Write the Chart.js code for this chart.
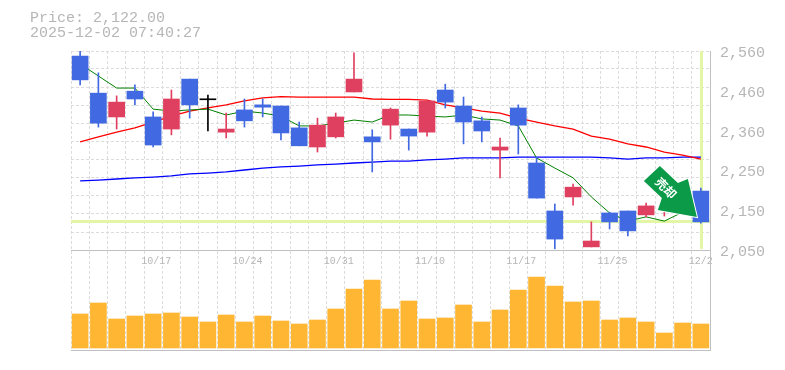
<!DOCTYPE html>
<html>
<head>
<meta charset="utf-8">
<style>
html, body { margin: 0; padding: 0; background: #fff; }
canvas { display: block; }
</style>
<script src="https://cdn.jsdelivr.net/npm/chart.js@4"></script>
</head>
<body>
<canvas id="stock-chart" width="785" height="370"></canvas>
<script>
// Data (the two candles under the arrow are estimates)
const dates = ['10/10','10/14','10/15','10/16','10/17','10/20','10/21','10/22','10/23','10/24',
    '10/27','10/28','10/29','10/30','10/31','11/4','11/5','11/6','11/7','11/10',
    '11/11','11/12','11/13','11/14','11/17','11/18','11/19','11/20','11/21','11/25',
    '11/26','11/27','11/28','12/1','12/2'];
const tickDates = ['10/17','10/24','10/31','11/10','11/17','11/25','12/2'];

const opens = [2547,2452,2391,2457,2391,2360,2488,2435,2352,2409,2422,2419,2363,2314,2340,2455,2340,2370,2360,2352,
    2460,2419,2381,2306,2414,2273,2150,2186,2058,2145,2150,2140,2199,2178,2201];
const highs = [2560,2504,2445,2473,2404,2460,2488,2447,2401,2437,2437,2419,2378,2388,2401,2555,2358,2414,2360,2434,
    2475,2442,2391,2337,2422,2288,2168,2219,2122,2147,2150,2170,2235,2204,2209];
const lows = [2473,2365,2360,2422,2314,2345,2388,2355,2337,2365,2391,2332,2317,2301,2337,2455,2250,2334,2306,2342,
    2414,2322,2327,2235,2296,2183,2053,2165,2058,2104,2086,2135,2137,2142,2119];
const closes = [2486,2375,2429,2437,2319,2437,2422,2435,2360,2381,2416,2350,2317,2370,2391,2488,2327,2411,2342,2432,
    2429,2378,2355,2314,2370,2183,2078,2211,2073,2122,2099,2163,2229,2150,2122];

const maShort = [2527,2496,2465,2465,2411,2406,2409,2411,2396,2406,2401,2393,2368,2368,2375,2383,2378,2396,2396,2393,
    2391,2396,2386,2383,2368,2286,2260,2235,2186,2145,2124,2135,2124,2147,2165];
const maMid = [2327,2340,2352,2363,2378,2393,2406,2414,2422,2432,2440,2443,2442,2442,2442,2442,2437,2436,2436,2434,
    2422,2414,2406,2401,2388,2378,2368,2360,2342,2334,2322,2314,2301,2293,2283];
const maLong = [2227,2229,2232,2235,2237,2240,2245,2247,2250,2255,2260,2263,2265,2268,2270,2273,2275,2278,2278,2281,
    2283,2286,2286,2286,2288,2288,2288,2288,2288,2286,2283,2286,2286,2288,2288];

const volumes = [102,135,87,96,102,105,93,78,99,78,96,81,72,84,117,177,204,117,
    141,87,90,129,78,114,174,213,186,138,141,84,90,78,45,75,72];

const priceTicks = [2560,2458,2356,2254,2152,2050];
const priceTickLabels = ['2,560','2,460','2,360','2,250','2,150','2,050'];
const priceGrid = [2096,2143,2189,2235,2282,2328,2375,2421,2467,2514];
const lastPrice = 2122;
const headerLines = ['Price: 2,122.00', '2025-12-02 07:40:27'];
const signalText = '売却';

const TEXT = '#b6b6b6';
const GRID = '#dcdcdc';
const AXIS = '#c0c0c0';
const UP = '#E04060';
const DOWN = '#4169E1';
const MARK = '#E3F6A6';
const MONO = '"Liberation Mono", monospace';

function candleColor(i) {
    if (opens[i] === closes[i]) return '#000';
    return closes[i] > opens[i] ? UP : DOWN;
}
const candleColors = dates.map((d, i) => candleColor(i));

// last price cross behind the candles, header and sell arrow
const extras = {
    id: 'extras',
    beforeDatasetsDraw(chart) {
        const { ctx, chartArea, scales } = chart;
        const y = scales.y.getPixelForValue(lastPrice);
        const x = scales.x.getPixelForValue(dates.length - 1);
        ctx.save();
        ctx.fillStyle = MARK;
        ctx.fillRect(chartArea.left, Math.round(y) - 2, chartArea.right - chartArea.left, 3);
        ctx.fillRect(Math.round(x) - 1, scales.y.top, 3, scales.y.bottom - scales.y.top - 1);
        ctx.restore();
    },
    afterDraw(chart) {
        const { ctx, scales } = chart;
        ctx.save();
        ctx.fillStyle = TEXT;
        ctx.font = '15px ' + MONO;
        ctx.textBaseline = 'middle';
        ctx.fillText(headerLines[0], 30, 18);
        ctx.fillText(headerLines[1], 30, 33);

        const tx = scales.x.getPixelForValue(dates.length - 1) - 4;
        const ty = scales.y.getPixelForValue(lastPrice) - 5;
        ctx.translate(tx, ty);
        ctx.beginPath();
        [[-37,-51],[-53,-36],[-35,-19],[-39,-7],[0,0],[-9,-38],[-19,-34]].forEach((p, i) => {
            if (i === 0) ctx.moveTo(p[0], p[1]); else ctx.lineTo(p[0], p[1]);
        });
        ctx.closePath();
        ctx.lineWidth = 2;
        ctx.strokeStyle = '#fff';
        ctx.stroke();
        ctx.fillStyle = '#0A9A48';
        ctx.fill();
        ctx.translate(-31, -29);
        ctx.rotate(Math.PI / 4);
        ctx.fillStyle = '#fff';
        ctx.font = 'bold 12px "Noto Sans CJK JP"';
        ctx.textAlign = 'center';
        ctx.fillText(signalText, 0, 0);
        ctx.restore();
    }
};

new Chart(document.getElementById('stock-chart'), {
    data: {
        labels: dates,
        datasets: [
            { type: 'bar', yAxisID: 'y', data: dates.map((d, i) => [opens[i], closes[i]]),
              backgroundColor: candleColors, barThickness: 16, minBarLength: 1, grouped: false, order: 1 },
            { type: 'bar', yAxisID: 'y', data: dates.map((d, i) => [lows[i], highs[i]]),
              backgroundColor: candleColors, barThickness: 1, grouped: false, order: 2 },
            { type: 'line', yAxisID: 'y', data: maShort, borderColor: '#008000', borderWidth: 1, pointRadius: 0, order: 3 },
            { type: 'line', yAxisID: 'y', data: maMid, borderColor: '#FF0000', borderWidth: 1.3, pointRadius: 0, order: 4 },
            { type: 'line', yAxisID: 'y', data: maLong, borderColor: '#0000FF', borderWidth: 1.3, pointRadius: 0, order: 5 },
            { type: 'bar', yAxisID: 'vol', data: volumes, backgroundColor: '#FFB733',
              barThickness: 16, grouped: false, order: 6 }
        ]
    },
    options: {
        responsive: false,
        animation: false,
        layout: { padding: { left: 71, top: 51, bottom: 20, right: 0 } },
        plugins: { legend: { display: false }, tooltip: { enabled: false }, title: { display: false } },
        scales: {
            x: {
                type: 'category',
                position: { y: 2050 },
                offset: true,
                grid: { offset: true, color: GRID, drawTicks: false },
                border: { color: AXIS, dash: [3, 2] },
                ticks: {
                    autoSkip: false, maxRotation: 0, padding: 5, labelOffset: 3,
                    color: TEXT, font: { family: MONO, size: 10 },
                    callback(v, i) {
                        const d = dates[i];
                        return tickDates.includes(d) ? d.padEnd(5, ' ') : '';
                    }
                }
            },
            y: {
                position: 'right',
                stack: 'main',
                stackWeight: 199,
                min: 2050,
                max: 2560,
                afterFit(s) { s.width = 75; },
                afterBuildTicks(s) {
                    s.ticks = priceTicks.concat(priceGrid).sort((a, b) => a - b).map(v => ({ value: v }));
                },
                grid: {
                    drawTicks: false,
                    color(c) { return (c.tick && priceGrid.includes(c.tick.value)) || (c.tick && c.tick.value === 2560) ? GRID : 'rgba(0,0,0,0)'; }
                },
                border: { color: AXIS, dash: [3, 2] },
                ticks: {
                    padding: 10, labelOffset: 2, autoSkip: false, color: TEXT,
                    font: { family: MONO, size: 15 },
                    callback(v) {
                        const i = priceTicks.indexOf(v);
                        return i < 0 ? '' : priceTickLabels[i];
                    }
                }
            },
            vol: {
                axis: 'y',
                position: 'right',
                stack: 'main',
                stackWeight: 100,
                min: -6,
                max: 294,
                afterFit(s) { s.width = 75; },
                afterBuildTicks(s) { s.ticks = [{ value: -6 }]; },
                grid: { drawTicks: false, color: AXIS, lineWidth: 1 },
                border: { color: AXIS },
                ticks: { callback() { return ''; } }
            }
        }
    },
    plugins: [extras]
});
</script>
</body>
</html>
